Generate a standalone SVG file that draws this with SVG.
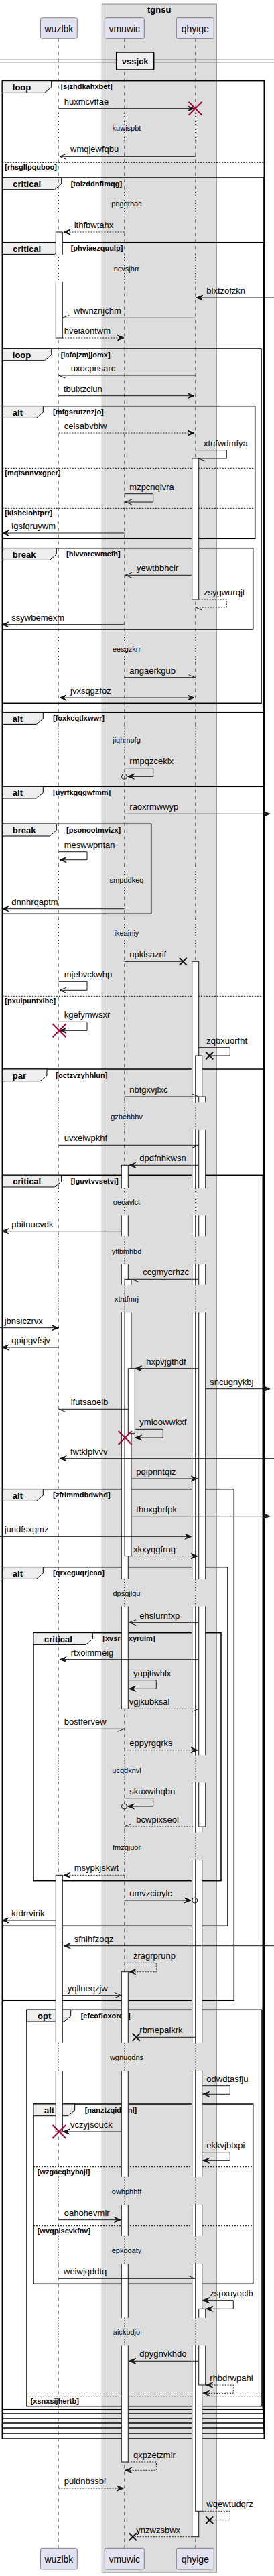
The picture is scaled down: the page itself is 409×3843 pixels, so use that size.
<svg xmlns="http://www.w3.org/2000/svg" width="409" height="3843" viewBox="0 0 409 3843">
<style>
text{font-family:"Liberation Sans",Arial,sans-serif}
.lbl{font-size:13px;fill:#000}
.pn{font-size:14px;fill:#000;text-anchor:middle}
.ttl{font-size:13px;font-weight:bold;text-anchor:middle}
.fk{font-size:13px;font-weight:bold}
.fc{font-size:11px;font-weight:bold}
.dl{font-size:11px;text-anchor:middle}
.m{stroke:#181818;stroke-width:1;fill:none}
.d{stroke-dasharray:2,2}
.life{stroke:#181818;stroke-width:0.5;stroke-dasharray:5,5;fill:none}
.act{fill:#fff;stroke:#181818;stroke-width:1}
.frm{fill:none;stroke:#000;stroke-width:1.5}
.tab{fill:#EEEEEE;stroke:#000;stroke-width:1}
.sep{stroke:#000;stroke-width:1;stroke-dasharray:2,2}
.dot{stroke:#A80036;stroke-width:1;stroke-dasharray:1,3;fill:none}
.part{fill:#E2E2F0;stroke:#181818;stroke-width:0.5}
.xr{stroke:#A80036;stroke-width:2;fill:none}
.xb{stroke:#181818;stroke-width:2;fill:none}
.ow{fill:#fff}
.og{fill:#DDDDDD}
.circ{fill:none;stroke:#181818;stroke-width:1}
</style>
<defs>
<marker id="af" markerUnits="userSpaceOnUse" orient="auto-start-reverse" overflow="visible" markerWidth="12" markerHeight="12"><path d="M0,0 L-10,-4 L-6,0 L-10,4 Z" fill="#181818" stroke="#181818" stroke-width="1"/></marker>
<marker id="ao" markerUnits="userSpaceOnUse" orient="auto-start-reverse" overflow="visible" markerWidth="12" markerHeight="12"><path d="M-10,-4 L0,0 L-10,4" fill="none" stroke="#181818" stroke-width="1"/></marker>
<marker id="ha" markerUnits="userSpaceOnUse" orient="auto" overflow="visible" markerWidth="12" markerHeight="12"><path d="M0,0 L-10,-4" fill="none" stroke="#181818" stroke-width="1"/></marker>
<marker id="hb" markerUnits="userSpaceOnUse" orient="auto" overflow="visible" markerWidth="12" markerHeight="12"><path d="M0,0 L-10,4" fill="none" stroke="#181818" stroke-width="1"/></marker>
</defs>
<rect width="409" height="3843" fill="#fff"/>
<g id="box-tgnsu">
<rect x="152.3" y="6" width="171" height="3832" fill="#DDDDDD" stroke="#888" stroke-width="1"/>
<text class="ttl" x="237.7" y="18.5">tgnsu</text>
</g>
<g id="frames">
<g id="f1"><rect class="frm" x="3.3" y="120.7" width="391" height="3517.3"/><polygon class="tab" points="3.3,120.7 76.7,120.7 76.7,130 66.7,138.4 3.3,138.4"/><text class="fk" x="18.8" y="134.7">loop</text><text class="fc" x="90.7" y="133.2">[sjzhdkahxbet]</text><path class="sep" d="M3.3 242.3H394.3"/><text class="fc" x="7.3" y="253.3">[rhsgllpquboo]</text></g>
<g id="f2"><rect class="frm" x="3.8" y="265" width="390.2" height="3365"/><polygon class="tab" points="3.8,265 91.7,265 91.7,274.3 81.7,282.7 3.8,282.7"/><text class="fk" x="19.3" y="279">critical</text><text class="fc" x="105.7" y="277.5">[tolzddnflmqg]</text></g>
<g id="f3"><rect class="frm" x="3.8" y="361.7" width="389.9" height="3260.3"/><polygon class="tab" points="3.8,361.7 91.7,361.7 91.7,371 81.7,379.4 3.8,379.4"/><text class="fk" x="19.3" y="375.7">critical</text><text class="fc" x="105.7" y="374.2">[phviaezquulp]</text></g>
<g id="f4"><rect class="frm" x="3.8" y="520" width="386.2" height="529.3"/><polygon class="tab" points="3.8,520 76.7,520 76.7,529.3 66.7,537.7 3.8,537.7"/><text class="fk" x="18.8" y="534">loop</text><text class="fc" x="90.7" y="532.5">[lafojzmjjomx]</text></g>
<g id="f5"><rect class="frm" x="3.8" y="605.7" width="376.9" height="197.6"/><polygon class="tab" points="3.8,605.7 64.3,605.7 64.3,615 54.3,623.4 3.8,623.4"/><text class="fk" x="18.8" y="619.7">alt</text><text class="fc" x="79" y="618.2">[mfgsrutznzjo]</text><path class="sep" d="M3.8 698.3H380.7M3.8 758.3H380.7"/><text class="fc" x="7.3" y="709.3">[mqtsnnvxgper]</text><text class="fc" x="7.3" y="769.3">[klsbclohtprr]</text></g>
<g id="f6"><rect class="frm" x="3.8" y="817.7" width="373.9" height="121.3"/><polygon class="tab" points="3.8,817.7 84.3,817.7 84.3,827 74.3,835.4 3.8,835.4"/><text class="fk" x="18.8" y="831.7">break</text><text class="fc" x="99" y="830.2">[hlvvarewmcfh]</text></g>
<g id="f7"><rect class="frm" x="3.8" y="1062.7" width="389.5" height="2552.3"/><polygon class="tab" points="3.8,1062.7 64.3,1062.7 64.3,1072 54.3,1080.4 3.8,1080.4"/><text class="fk" x="18.8" y="1076.7">alt</text><text class="fc" x="79" y="1075.2">[foxkcqtlxwwr]</text></g>
<g id="f8"><rect class="frm" x="3.8" y="1173.3" width="389.2" height="2434.7"/><polygon class="tab" points="3.8,1173.3 64.3,1173.3 64.3,1182.6 54.3,1191 3.8,1191"/><text class="fk" x="18.8" y="1187.3">alt</text><text class="fc" x="79" y="1185.8">[uyrfkgqgwfmm]</text><path class="sep" d="M3.8 1486.3H393"/><text class="fc" x="7.3" y="1497.3">[pxulpuntxlbc]</text></g>
<g id="f9"><rect class="frm" x="3.8" y="1229.3" width="221.9" height="134"/><polygon class="tab" points="3.8,1229.3 84.3,1229.3 84.3,1238.6 74.3,1247 3.8,1247"/><text class="fk" x="18.8" y="1243.3">break</text><text class="fc" x="99" y="1241.8">[psonootmvizx]</text></g>
<g id="f10"><rect class="frm" x="3.8" y="1595" width="388.9" height="2006"/><polygon class="tab" points="3.8,1595 70,1595 70,1604.3 60,1612.7 3.8,1612.7"/><text class="fk" x="18.8" y="1609">par</text><text class="fc" x="83.3" y="1607.5">[octzvzyhhlun]</text></g>
<g id="f11"><rect class="frm" x="3.8" y="1753.3" width="388.5" height="1841.4"/><polygon class="tab" points="3.8,1753.3 91.7,1753.3 91.7,1762.6 81.7,1771 3.8,1771"/><text class="fk" x="19.3" y="1767.3">critical</text><text class="fc" x="105.7" y="1765.8">[lguvtvvsetvi]</text></g>
<g id="f12"><rect class="frm" x="3.8" y="2221.7" width="345.5" height="762.6"/><polygon class="tab" points="3.8,2221.7 64.3,2221.7 64.3,2231 54.3,2239.4 3.8,2239.4"/><text class="fk" x="18.8" y="2235.7">alt</text><text class="fc" x="79" y="2234.2">[zfrimmdbdwhd]</text></g>
<g id="f13"><rect class="frm" x="3.8" y="2337.7" width="336.2" height="535.6"/><polygon class="tab" points="3.8,2337.7 64.3,2337.7 64.3,2347 54.3,2355.4 3.8,2355.4"/><text class="fk" x="18.8" y="2351.7">alt</text><text class="fc" x="79" y="2350.2">[qrxcguqrjeao]</text></g>
<g id="f14"><rect class="frm" x="50" y="2435.7" width="280" height="370"/><polygon class="tab" points="50,2435.7 138.3,2435.7 138.3,2445 128.3,2453.4 50,2453.4"/><text class="fk" x="66" y="2449.7">critical</text><text class="fc" x="153.3" y="2448.2">[xvsraexyrulm]</text></g>
<g id="f15"><rect class="frm" x="40" y="2998.3" width="351" height="591.4"/><polygon class="tab" points="40,2998.3 105.7,2998.3 105.7,3007.6 95.7,3016 40,3016"/><text class="fk" x="56" y="3012.3">opt</text><text class="fc" x="120.7" y="3010.8">[efcofloxoron]</text><path class="sep" d="M40 3574.7H391"/><text class="fc" x="45.7" y="3585.7">[xsnxsijhertb]</text></g>
<g id="f16"><rect class="frm" x="50" y="3139" width="327.7" height="268.3"/><polygon class="tab" points="50,3139 111.7,3139 111.7,3148.3 101.7,3156.7 50,3156.7"/><text class="fk" x="66" y="3153">alt</text><text class="fc" x="126.7" y="3151.5">[nanztzqidmnl]</text><path class="sep" d="M50 3232.7H377.7M50 3320.7H377.7"/><text class="fc" x="55.7" y="3243.7">[wzgaeqbybajl]</text><text class="fc" x="55.7" y="3331.7">[wvqplscvkfnv]</text></g>
</g>
<g id="lifelines">
<path class="life" d="M87.5 57.3V3801.3"/>
<path class="life" d="M185.5 57.3V3801.3"/>
<path class="life" d="M291.5 57.3V3801.3"/>
</g>
<g id="activations">
<rect class="act" x="83.3" y="346" width="10" height="158"/>
<rect class="act" x="83.3" y="2797.3" width="10" height="382.7"/>
<rect class="act" x="286.7" y="684" width="10" height="210"/>
<rect class="act" x="286.7" y="1434.3" width="10" height="2350.4"/>
<rect class="act" x="291.7" y="1575" width="10" height="2171.3"/>
<rect class="act" x="296.7" y="1636" width="10" height="1089"/>
<rect class="act" x="296.7" y="3444.3" width="10" height="113.7"/>
<rect class="act" x="181.3" y="1738.3" width="10" height="811"/>
<rect class="act" x="186" y="1908.3" width="10" height="413.4"/>
<rect class="act" x="191.3" y="2041.7" width="10" height="96.6"/>
<rect class="act" x="181.3" y="2941.7" width="10" height="731.3"/>
</g>
<g id="delays">
<g><rect class="ow" x="81" y="169" width="15" height="42"/><rect class="og" x="179" y="169" width="25" height="42"/><rect class="og" x="284" y="169" width="25" height="42"/><path class="dot" d="M87.5 169v42M185.5 169v42M291.5 169v42"/><text class="dl" x="189" y="194.7">kuwispbt</text></g>
<g><rect class="ow" x="81" y="283" width="15" height="41"/><rect class="og" x="179" y="283" width="25" height="41"/><rect class="og" x="284" y="283" width="25" height="41"/><path class="dot" d="M87.5 283v41M185.5 283v41M291.5 283v41"/><text class="dl" x="189" y="308.3">pngqthac</text></g>
<g><rect class="ow" x="81" y="380" width="15" height="40"/><rect class="og" x="179" y="380" width="25" height="40"/><rect class="og" x="284" y="380" width="25" height="40"/><path class="dot" d="M87.5 380v40M185.5 380v40M291.5 380v40"/><text class="dl" x="189" y="405">ncvsjhrr</text></g>
<g><rect class="ow" x="81" y="947" width="15" height="41"/><rect class="og" x="179" y="947" width="25" height="41"/><rect class="og" x="284" y="947" width="25" height="41"/><path class="dot" d="M87.5 947v41M185.5 947v41M291.5 947v41"/><text class="dl" x="189" y="972.3">eesgzkrr</text></g>
<g><rect class="ow" x="81" y="1082.5" width="15" height="41.5"/><rect class="og" x="179" y="1082.5" width="25" height="41.5"/><rect class="og" x="284" y="1082.5" width="25" height="41.5"/><path class="dot" d="M87.5 1082.5v41.5M185.5 1082.5v41.5M291.5 1082.5v41.5"/><text class="dl" x="189" y="1108">jiqhmpfg</text></g>
<g><rect class="ow" x="81" y="1292" width="15" height="41"/><rect class="og" x="179" y="1292" width="25" height="41"/><rect class="og" x="284" y="1292" width="25" height="41"/><path class="dot" d="M87.5 1292v41M185.5 1292v41M291.5 1292v41"/><text class="dl" x="189" y="1317.3">smpddkeq</text></g>
<g><rect class="ow" x="81" y="1371" width="15" height="41"/><rect class="og" x="179" y="1371" width="25" height="41"/><rect class="og" x="284" y="1371" width="25" height="41"/><path class="dot" d="M87.5 1371v41M185.5 1371v41M291.5 1371v41"/><text class="dl" x="189" y="1396.3">ikeainiy</text></g>
<g><rect class="ow" x="81" y="1644.3" width="15" height="41.7"/><rect class="og" x="179" y="1644.3" width="25" height="41.7"/><rect class="og" x="284" y="1644.3" width="25" height="41.7"/><path class="dot" d="M87.5 1644.3v41.7M185.5 1644.3v41.7M291.5 1644.3v41.7"/><text class="dl" x="189" y="1670">gzbehhhv</text></g>
<g><rect class="ow" x="81" y="1773" width="15" height="40.3"/><rect class="og" x="179" y="1773" width="25" height="40.3"/><rect class="og" x="284" y="1773" width="25" height="40.3"/><path class="dot" d="M87.5 1773v40.3M185.5 1773v40.3M291.5 1773v40.3"/><text class="dl" x="189" y="1797.3">oecavlct</text></g>
<g><rect class="ow" x="81" y="1844.3" width="15" height="41.7"/><rect class="og" x="179" y="1844.3" width="25" height="41.7"/><rect class="og" x="284" y="1844.3" width="25" height="41.7"/><path class="dot" d="M87.5 1844.3v41.7M185.5 1844.3v41.7M291.5 1844.3v41.7"/><text class="dl" x="189" y="1870.7">yflbmhbd</text></g>
<g><rect class="ow" x="81" y="1916.7" width="15" height="41.6"/><rect class="og" x="179" y="1916.7" width="25" height="41.6"/><rect class="og" x="284" y="1916.7" width="25" height="41.6"/><path class="dot" d="M87.5 1916.7v41.6M185.5 1916.7v41.6M291.5 1916.7v41.6"/><text class="dl" x="189" y="1942.3">xtntfmrj</text></g>
<g><rect class="ow" x="81" y="2356" width="15" height="40.7"/><rect class="og" x="179" y="2356" width="25" height="40.7"/><rect class="og" x="284" y="2356" width="25" height="40.7"/><path class="dot" d="M87.5 2356v40.7M185.5 2356v40.7M291.5 2356v40.7"/><text class="dl" x="189" y="2381.3">dpsgjlgu</text></g>
<g><rect class="ow" x="81" y="2618.3" width="15" height="41"/><rect class="og" x="179" y="2618.3" width="25" height="41"/><rect class="og" x="284" y="2618.3" width="25" height="41"/><path class="dot" d="M87.5 2618.3v41M185.5 2618.3v41M291.5 2618.3v41"/><text class="dl" x="189" y="2644.7">ucqdknvl</text></g>
<g><rect class="ow" x="81" y="2733.3" width="15" height="41.7"/><rect class="og" x="179" y="2733.3" width="25" height="41.7"/><rect class="og" x="284" y="2733.3" width="25" height="41.7"/><path class="dot" d="M87.5 2733.3v41.7M185.5 2733.3v41.7M291.5 2733.3v41.7"/><text class="dl" x="189" y="2759.7">fmzqjuor</text></g>
<g><rect class="ow" x="81" y="3047.7" width="15" height="41.6"/><rect class="og" x="179" y="3047.7" width="25" height="41.6"/><rect class="og" x="284" y="3047.7" width="25" height="41.6"/><path class="dot" d="M87.5 3047.7v41.6M185.5 3047.7v41.6M291.5 3047.7v41.6"/><text class="dl" x="189" y="3073.3">wgnuqdns</text></g>
<g><rect class="ow" x="81" y="3247.7" width="15" height="41.6"/><rect class="og" x="179" y="3247.7" width="25" height="41.6"/><rect class="og" x="284" y="3247.7" width="25" height="41.6"/><path class="dot" d="M87.5 3247.7v41.6M185.5 3247.7v41.6M291.5 3247.7v41.6"/><text class="dl" x="189" y="3273.3">owhphhff</text></g>
<g><rect class="ow" x="81" y="3335.7" width="15" height="41.6"/><rect class="og" x="179" y="3335.7" width="25" height="41.6"/><rect class="og" x="284" y="3335.7" width="25" height="41.6"/><path class="dot" d="M87.5 3335.7v41.6M185.5 3335.7v41.6M291.5 3335.7v41.6"/><text class="dl" x="189" y="3361.3">epkooaty</text></g>
<g><rect class="ow" x="81" y="3457.7" width="15" height="41.6"/><rect class="og" x="179" y="3457.7" width="25" height="41.6"/><rect class="og" x="284" y="3457.7" width="25" height="41.6"/><path class="dot" d="M87.5 3457.7v41.6M185.5 3457.7v41.6M291.5 3457.7v41.6"/><text class="dl" x="189" y="3483.3">aickbdjo</text></g>
</g>
<g id="connectors">
<g><path class="m" d="M87.5 161.7H290" marker-end="url(#af)"/><text class="lbl" x="95.7" y="155.7">huxmcvtfae</text></g>
<g><path class="m" d="M291.5 233.3H89" marker-end="url(#ao)"/><text class="lbl" x="105" y="227.3">wmqjewfqbu</text></g>
<g><path class="m d" d="M185.5 346H95" marker-end="url(#af)"/><text class="lbl" x="110.7" y="340">lthfbwtahx</text></g>
<g><path class="m" d="M409 444H293" marker-end="url(#af)"/><text class="lbl" x="308.3" y="438">blxtzofzkn</text></g>
<g><path class="m" d="M291.5 474.3H93.3" marker-end="url(#hb)"/><text class="lbl" x="110" y="468.3">wtwnznjchm</text></g>
<g><path class="m d" d="M93.3 504H185" marker-end="url(#af)"/><text class="lbl" x="95.7" y="498">hveiaontwm</text></g>
<g><path class="m" d="M291.5 560H87.5" marker-end="url(#ha)"/><text class="lbl" x="105.7" y="554">uxocpnsarc</text></g>
<g><path class="m" d="M87.5 590.7H290" marker-end="url(#af)"/><text class="lbl" x="95" y="584.7">tbulxzciun</text></g>
<g><path class="m d" d="M87.5 646H290" marker-end="url(#af)"/><text class="lbl" x="95.7" y="640">ceisabvblw</text></g>
<g><path class="m" d="M291.5 671.7H338.3V684H296.7" marker-end="url(#ha)"/><text class="lbl" x="304" y="665.7">xtufwdmfya</text></g>
<g><path class="m" d="M185.5 736.7H228.7V749H187" marker-end="url(#ao)"/><text class="lbl" x="193.3" y="730.7">mzpcnqivra</text></g>
<g><path class="m" d="M185.5 795H3" marker-end="url(#af)"/><text class="lbl" x="17.3" y="789">igsfqruywm</text></g>
<g><path class="m" d="M286.7 858.3H187" marker-end="url(#ao)"/><text class="lbl" x="204" y="852.3">yewtbbhcir</text></g>
<g><path class="m d" d="M296.7 894H338.3V906H291.5" marker-end="url(#ha)"/><text class="lbl" x="304" y="888">zsygwurqjt</text></g>
<g><path class="m" d="M185.5 931.7H3" marker-end="url(#af)"/><text class="lbl" x="17.3" y="925.7">ssywbemexm</text></g>
<g><path class="m" d="M185.5 1010.7H291.5" marker-end="url(#ha)"/><text class="lbl" x="193.3" y="1004.7">angaerkgub</text></g>
<g><path class="m" d="M89 1041H290" marker-start="url(#af)" marker-end="url(#af)"/><text class="lbl" x="105" y="1035">jvxsqgzfoz</text></g>
<g><path class="m" d="M185.5 1145.7H228.7V1158.3H190.5" marker-end="url(#af)"/><circle class="circ" cx="185.5" cy="1158.3" r="4"/><text class="lbl" x="193.3" y="1139.7">rmpqzcekix</text></g>
<g><path class="m" d="M185.5 1214.3H403" marker-end="url(#af)"/><text class="lbl" x="193.3" y="1208.3">raoxrmwwyp</text></g>
<g><path class="m" d="M87.5 1270.7H130V1282.7H89" marker-end="url(#af)"/><text class="lbl" x="95.7" y="1264.7">meswwpntan</text></g>
<g><path class="m" d="M185.5 1355.7H3" marker-end="url(#af)"/><text class="lbl" x="17.3" y="1349.7">dnnhrqaptm</text></g>
<g><path class="m" d="M185.5 1434.3H273.3"/><path class="xb" d="M267.8 1428.8l11 11M278.8 1428.8l-11 11"/><text class="lbl" x="193.3" y="1428.3">npklsazrif</text></g>
<g><path class="m" d="M87.5 1464.3H130V1477.3H89" marker-end="url(#ao)"/><text class="lbl" x="95.7" y="1458.3">mjebvckwhp</text></g>
<g><path class="m" d="M87.5 1524.3H130V1537.3H89" marker-end="url(#af)"/><text class="lbl" x="95.7" y="1518.3">kgefymwsxr</text></g>
<g><path class="m" d="M296.7 1562.7H343.3V1575H312.7"/><path class="xb" d="M307.2 1569.5l11 11M318.2 1569.5l-11 11"/><text class="lbl" x="308.3" y="1556.7">zqbxuorfht</text></g>
<g><path class="m" d="M185.5 1636H296.7" marker-end="url(#ha)"/><text class="lbl" x="193.3" y="1630">nbtgxvjlxc</text></g>
<g><path class="m" d="M87.5 1708.3H296.7" marker-end="url(#hb)"/><text class="lbl" x="95.7" y="1702.3">uvxeiwpkhf</text></g>
<g><path class="m" d="M296.7 1738.3H192.7" marker-end="url(#af)"/><text class="lbl" x="208.3" y="1732.3">dpdfnhkwsn</text></g>
<g><path class="m" d="M181.3 1836.7H3" marker-end="url(#af)"/><text class="lbl" x="17.3" y="1830.7">pbitnucvdk</text></g>
<g><path class="m" d="M296.7 1908.3H196.7" marker-end="url(#ha)"/><text class="lbl" x="213.3" y="1902.3">ccgmycrhzc</text></g>
<g><path class="m" d="M0 1980.7H87.5" marker-end="url(#af)"/><text class="lbl" x="6.7" y="1974.7">jbnsiczrvx</text></g>
<g><path class="m" d="M87.5 2010H3" marker-end="url(#af)"/><text class="lbl" x="17.3" y="2004">qpipgvfsjv</text></g>
<g><path class="m" d="M296.7 2041.7H201.7" marker-end="url(#af)"/><text class="lbl" x="218.3" y="2035.7">hxpvjgthdf</text></g>
<g><path class="m" d="M306.7 2071.7H403" marker-end="url(#af)"/><text class="lbl" x="313.3" y="2065.7">sncugnykbj</text></g>
<g><path class="m" d="M191.3 2102.3H87.5" marker-end="url(#ha)"/><text class="lbl" x="105.7" y="2096.3">lfutsaoelb</text></g>
<g><path class="m" d="M201.3 2132.3H243.3V2145H201.7" marker-end="url(#af)"/><text class="lbl" x="208.3" y="2126.3">ymioowwkxf</text></g>
<g><path class="m" d="M409 2175.7H89.3" marker-end="url(#af)"/><text class="lbl" x="105" y="2169.7">fwtklplvvv</text></g>
<g><path class="m" d="M196 2206H295" marker-end="url(#af)"/><text class="lbl" x="203.3" y="2200">pqipnntqiz</text></g>
<g><path class="m" d="M196 2261.7H403" marker-end="url(#af)"/><text class="lbl" x="203.3" y="2255.7">thuxgbrfpk</text></g>
<g><path class="m" d="M0 2292.3H286" marker-end="url(#af)"/><text class="lbl" x="6.7" y="2286.3">jundfsxgmz</text></g>
<g><path class="m d" d="M196 2321.7H295" marker-end="url(#af)"/><text class="lbl" x="199" y="2315.7">xkxyqgfrng</text></g>
<g><path class="m" d="M296.7 2420.7H193" marker-end="url(#ao)"/><text class="lbl" x="208.3" y="2414.7">ehslurnfxp</text></g>
<g><path class="m" d="M296.7 2475.7H89.3" marker-end="url(#af)"/><text class="lbl" x="105.7" y="2469.7">rtxolmmeig</text></g>
<g><path class="m" d="M191.3 2506.7H233.3V2519.3H192.7" marker-end="url(#af)"/><text class="lbl" x="199" y="2500.7">yupjtiwhlx</text></g>
<g><path class="m d" d="M191.3 2549.3H296.7" marker-end="url(#hb)"/><text class="lbl" x="192.7" y="2543.3">vgjkubksal</text></g>
<g><path class="m" d="M87.5 2579.3H185.5" marker-end="url(#hb)"/><text class="lbl" x="95.7" y="2573.3">bostfervew</text></g>
<g><path class="m d" d="M185.5 2610.7H295" marker-end="url(#af)"/><text class="lbl" x="193.3" y="2604.7">eppyrgqrks</text></g>
<g><path class="m" d="M185.5 2682.7H228.7V2695H190.5" marker-end="url(#af)"/><circle class="circ" cx="185.5" cy="2695" r="4"/><text class="lbl" x="193.3" y="2676.7">skuxwihqbn</text></g>
<g><path class="m d" d="M288.3 2725H185.5" marker-end="url(#hb)"/><text class="lbl" x="203.3" y="2719">bcwpixseol</text></g>
<g><path class="m d" d="M185.5 2797.3H95" marker-end="url(#af)"/><text class="lbl" x="110.7" y="2791.3">msypkjskwt</text></g>
<g><path class="m" d="M185.5 2835H285" marker-end="url(#af)"/><circle class="circ" cx="290.7" cy="2835" r="4"/><text class="lbl" x="193.3" y="2829">umvzcioylc</text></g>
<g><path class="m" d="M83.3 2865H3" marker-end="url(#af)"/><text class="lbl" x="17.3" y="2859">ktdrrvirik</text></g>
<g><path class="m" d="M409 2902.7H95" marker-end="url(#af)"/><text class="lbl" x="110.7" y="2896.7">sfnihfzoqz</text></g>
<g><path class="m d" d="M185.5 2928.3H233.3V2941.7H192.7" marker-end="url(#af)"/><text class="lbl" x="199" y="2922.3">zragrprunp</text></g>
<g><path class="m" d="M93.3 2976.7H181" marker-end="url(#ao)"/><text class="lbl" x="100.7" y="2970.7">yqllneqzjw</text></g>
<g><path class="m" d="M291.7 3039.3H203.3"/><path class="xb" d="M197.8 3033.8l11 11M208.8 3033.8l-11 11"/><text class="lbl" x="208.3" y="3033.3">rbmepaikrk</text></g>
<g><path class="m" d="M301.7 3111.7H343.3V3124.3H302.7" marker-end="url(#af)"/><text class="lbl" x="308.3" y="3105.7">odwdtasfju</text></g>
<g><path class="m" d="M181.3 3180H94" marker-end="url(#af)"/><text class="lbl" x="105" y="3174">vczyjsouck</text></g>
<g><path class="m" d="M301.7 3210.7H343.3V3223.3H302.7" marker-end="url(#af)"/><text class="lbl" x="308.3" y="3204.7">ekkvjbtxpi</text></g>
<g><path class="m" d="M87.5 3311.7H180.5" marker-end="url(#af)"/><text class="lbl" x="95.7" y="3305.7">oahohevmir</text></g>
<g><path class="m" d="M87.5 3399.3H291" marker-end="url(#ha)"/><text class="lbl" x="95" y="3393.3">weiwjqddtq</text></g>
<g><path class="m" d="M302.7 3431.7H348.3V3444.3H307.7" marker-start="url(#af)" marker-end="url(#af)"/><text class="lbl" x="313.3" y="3425.7">zspxuyqclb</text></g>
<g><path class="m" d="M296.7 3522.3H192.7" marker-end="url(#af)"/><text class="lbl" x="208.3" y="3516.3">dpygnvkhdo</text></g>
<g><path class="m d" d="M307.7 3558H348.3V3570.3H302.7" marker-start="url(#af)" marker-end="url(#af)"/><text class="lbl" x="313.3" y="3552">rhbdrwpahl</text></g>
<g><path class="m d" d="M191.3 3673H233.3V3685.3H186.7" marker-end="url(#af)"/><text class="lbl" x="199" y="3667">qxpzetzmlr</text></g>
<g><path class="m d" d="M87.5 3712H184.3" marker-end="url(#af)"/><text class="lbl" x="95.7" y="3706">puldnbssbi</text></g>
<g><path class="m d" d="M301.7 3746.3H343.3V3759.7H312.7"/><path class="xb" d="M307.2 3754.2l11 11M318.2 3754.2l-11 11"/><text class="lbl" x="308.3" y="3740.3">wqewtudqrz</text></g>
<g><path class="m d" d="M286.7 3784.7H198.3"/><path class="xb" d="M192.8 3779.2l11 11M203.8 3779.2l-11 11"/><text class="lbl" x="203.3" y="3778.7">ynzwzsbwx</text></g>
</g>
<g id="destroys">
<path class="xr" d="M281.5 151.7l20 20M301.5 151.7l-20 20"/>
<path class="xr" d="M78.5 1527.3l20 20M98.5 1527.3l-20 20"/>
<path class="xr" d="M176.7 2135l20 20M196.7 2135l-20 20"/>
<path class="xr" d="M78.3 3170l20 20M98.3 3170l-20 20"/>
</g>
<g id="divider-vssjck">
<path d="M0 89.3H409M0 92.7H409" stroke="#000" stroke-width="1"/>
<rect x="173.7" y="78" width="56" height="26" fill="#EEEEEE" stroke="#000" stroke-width="1.5"/>
<text class="ttl" x="201.7" y="96">vssjck</text>
</g>
<g id="p-wuzlbk"><rect class="part" x="60.5" y="26.7" width="54.8" height="30.6" rx="2.5"/><text class="pn" x="87.9" y="47.5">wuzlbk</text><rect class="part" x="60.5" y="3801.3" width="54.8" height="31.7" rx="2.5"/><text class="pn" x="87.9" y="3822.5">wuzlbk</text></g>
<g id="p-vmuwic"><rect class="part" x="156.3" y="26.7" width="59" height="30.6" rx="2.5"/><text class="pn" x="185.8" y="47.5">vmuwic</text><rect class="part" x="156.3" y="3801.3" width="59" height="31.7" rx="2.5"/><text class="pn" x="185.8" y="3822.5">vmuwic</text></g>
<g id="p-qhyige"><rect class="part" x="263.3" y="26.7" width="56" height="30.6" rx="2.5"/><text class="pn" x="291.3" y="47.5">qhyige</text><rect class="part" x="263.3" y="3801.3" width="56" height="31.7" rx="2.5"/><text class="pn" x="291.3" y="3822.5">qhyige</text></g>
</svg>
